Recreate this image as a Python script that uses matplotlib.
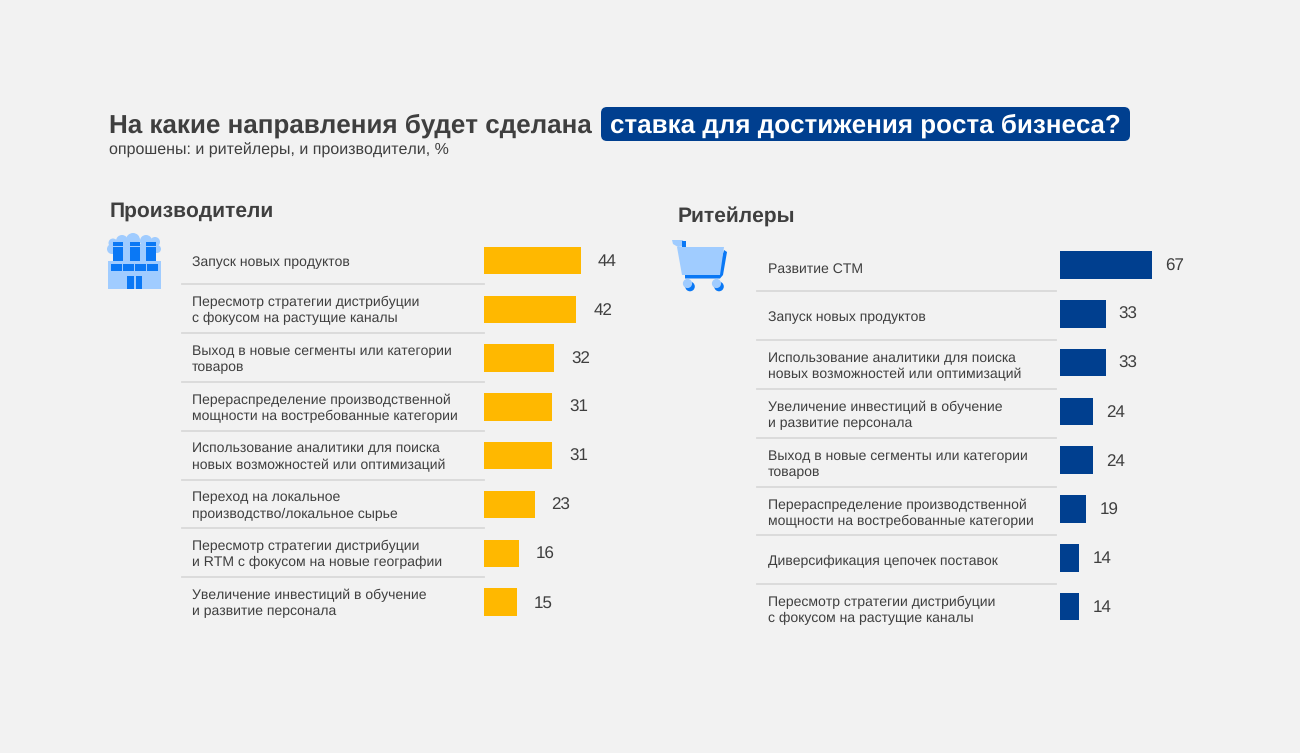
import matplotlib
matplotlib.use("Agg")
import matplotlib.pyplot as plt
from matplotlib.patches import Rectangle, FancyBboxPatch, Circle, Polygon
from matplotlib.transforms import blended_transform_factory

plt.rcParams['font.family'] = ['Liberation Sans', 'DejaVu Sans']
plt.rcParams['text.hinting'] = 'none'
plt.rcParams['text.hinting_factor'] = 1

W, H = 1300, 753
BG = '#F2F2F2'; TXT = '#3F3F3F'; LINE = '#D9D9D9'
AMBER = '#FFB800'; NAVY = '#003F8F'; LIGHT = '#A0CCFF'; BLUE = '#0A78F5'

title_plain = 'На какие направления будет сделана'
title_box = 'ставка для достижения роста бизнеса?'
subtitle = 'опрошены: и ритейлеры, и производители, %'

prod_title = 'Производители'
prod_labels = ['Запуск новых продуктов',
               'Пересмотр стратегии дистрибуции\nс фокусом на растущие каналы',
               'Выход в новые сегменты или категории\nтоваров',
               'Перераспределение производственной\nмощности на востребованные категории',
               'Использование аналитики для поиска\nновых возможностей или оптимизаций',
               'Переход на локальное\nпроизводство/локальное сырье',
               'Пересмотр стратегии дистрибуции\nи RTM с фокусом на новые географии',
               'Увеличение инвестиций в обучение\nи развитие персонала']
prod_values = [44, 42, 32, 31, 31, 23, 16, 15]

ret_title = 'Ритейлеры'
ret_labels = ['Развитие СТМ',
              'Запуск новых продуктов',
              'Использование аналитики для поиска\nновых возможностей или оптимизаций',
              'Увеличение инвестиций в обучение\nи развитие персонала',
              'Выход в новые сегменты или категории\nтоваров',
              'Перераспределение производственной\nмощности на востребованные категории',
              'Диверсификация цепочек поставок',
              'Пересмотр стратегии дистрибуции\nс фокусом на растущие каналы']
ret_values = [67, 33, 33, 24, 24, 19, 14, 14]

fig = plt.figure(figsize=(W/100, H/100), dpi=100, facecolor=BG)

# pixel-space overlay for headings and icons
ov = fig.add_axes([0, 0, 1, 1]); ov.set_xlim(0, W); ov.set_ylim(H, 0); ov.axis('off')

ov.text(109, 126, title_plain, fontsize=19.0, fontweight='bold', color=TXT, va='center', ha='left')
ov.add_patch(FancyBboxPatch((604, 110), 523, 28, boxstyle='round,pad=3,rounding_size=6', fc=NAVY, ec='none'))
ov.text(610, 126, title_box, fontsize=18.9, fontweight='bold', color='white', va='center', ha='left')
ov.text(109, 150, subtitle, fontsize=11.2, color=TXT, va='center', ha='left')
ov.text(110, 211, prod_title, fontsize=15.0, fontweight='bold', color=TXT, va='center', ha='left')
ov.text(678, 216, ret_title, fontsize=15.0, fontweight='bold', color=TXT, va='center', ha='left')

# factory icon
for cx, cy, r in [(113, 243, 4.5), (122, 241, 6), (133, 240, 7), (146, 241, 6), (155, 242, 5),
                  (112, 249, 5), (157, 249, 4)]:
    ov.add_patch(Circle((cx, cy), r, fc=LIGHT, ec='none'))
ov.add_patch(Rectangle((108, 261), 53, 28, fc=LIGHT, ec='none'))
ov.add_patch(Rectangle((113, 244), 42, 17, fc=LIGHT, ec='none'))
for x in (113, 130, 146):
    ov.add_patch(Rectangle((x, 241.5), 9.5, 4, fc=BLUE, ec='none'))
    ov.add_patch(Rectangle((x, 246.5), 9.5, 14, fc=BLUE, ec='none'))
for x in (111, 123, 135, 147):
    ov.add_patch(Rectangle((x, 263.5), 11, 7, fc=BLUE, ec='none'))
for x in (127, 135.5):
    ov.add_patch(Rectangle((x, 276), 6.5, 13, fc=BLUE, ec='none'))

# cart icon
ov.add_patch(Polygon([(672, 240), (683, 240), (685, 246), (678, 247), (673, 244)], fc=LIGHT, ec='none'))
ov.add_patch(Rectangle((682, 241), 3.5, 6, fc=BLUE, ec='none'))
ov.add_patch(Polygon([(724, 250), (727, 252), (723, 275), (720, 278.5), (685, 278.5), (685, 274), (717, 274)],
                     fc=BLUE, ec='none'))
ov.add_patch(Polygon([(677, 247), (724, 247), (720, 275), (682, 275)], fc=LIGHT, ec='none'))
for x in (690, 719):
    ov.add_patch(Circle((x, 286.5), 4.8, fc=BLUE, ec='none'))
    ov.add_patch(Circle((x - 2.5, 283.5), 4.6, fc=LIGHT, ec='none'))


def panel(x0, top, width, pitch, xmax, values, labels, color, line_left, line_right, line_dy, text_left, text_dy, val_off):
    height = pitch * len(values)
    ax = fig.add_axes([x0 / W, 1 - (top + height) / H, width / W, height / H])
    ax.patch.set_alpha(0)
    ax.set_xlim(0, xmax); ax.set_ylim(len(values) - 0.5, -0.5)
    ax.axis('off')
    ypos = list(range(len(values)))
    ax.barh(ypos, values, height=27.5 / pitch, color=color)
    tr = blended_transform_factory(ax.transAxes, ax.transData)
    for y, v, lab in zip(ypos, values, labels):
        ax.annotate(str(v), xy=(v, y), xytext=(val_off * 0.72, -0.72), textcoords='offset points',
                    fontsize=12, color=TXT, va='center', ha='left')
        ax.annotate(lab, xy=(0, y), xycoords=('axes fraction', 'data'),
                    xytext=((text_left - x0) * 0.72, -text_dy * 0.72), textcoords='offset points',
                    fontsize=9.95, color=TXT, va='center', ha='left', linespacing=1.3)
        if y < len(values) - 1:
            ax.plot([(line_left - x0) / width, (line_right - x0) / width],
                    [y + 0.5 + line_dy / pitch, y + 0.5 + line_dy / pitch],
                    transform=tr, color=LINE, lw=1.3, clip_on=False)
    return ax


panel(484, 236.1, 156, 48.8, 156 / 2.2, prod_values, prod_labels, AMBER, 182, 484, -0.5, 192, 1.5, 17)
panel(1060, 240.6, 140, 48.8, 140 / 1.38, ret_values, ret_labels, NAVY, 757, 1056, 2, 767.5, 4, 13)

fig.savefig('out.png', dpi=100, facecolor=BG)
